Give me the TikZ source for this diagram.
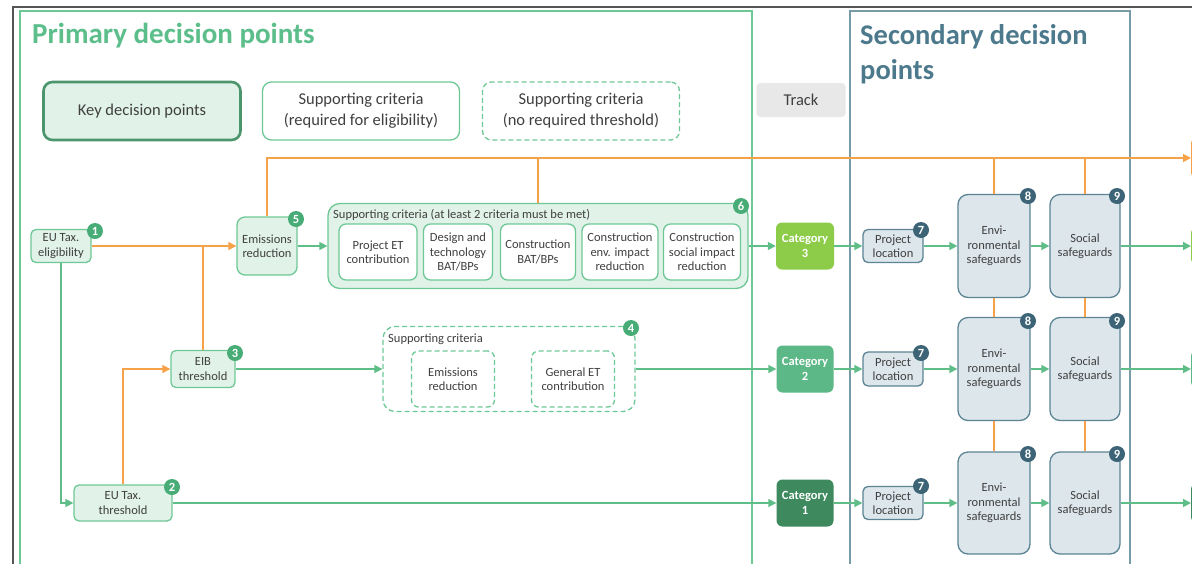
\documentclass[tikz,border=0pt]{standalone}
\usepackage{fontspec}
\setmainfont{Carlito}
\usetikzlibrary{arrows.meta}
\definecolor{txt}{RGB}{64,64,64}
\definecolor{cgreen}{RGB}{95,190,135}
\definecolor{corange}{RGB}{247,162,72}
\definecolor{kgfill}{RGB}{225,242,233}
\definecolor{kgborder}{RGB}{110,200,150}
\definecolor{kgdark}{RGB}{75,150,108}
\definecolor{bgreen}{RGB}{72,172,118}
\definecolor{titlegreen}{RGB}{92,190,138}
\definecolor{slate}{RGB}{120,155,168}
\definecolor{slateb}{RGB}{92,132,148}
\definecolor{slatefill}{RGB}{220,230,235}
\definecolor{slatebadge}{RGB}{60,100,118}
\definecolor{slatetitle}{RGB}{76,122,140}
\definecolor{cat3}{RGB}{141,204,72}
\definecolor{cat2}{RGB}{92,184,134}
\definecolor{cat1}{RGB}{62,138,94}
\definecolor{trackfill}{RGB}{232,232,232}
\definecolor{frame}{RGB}{85,85,85}
\begin{document}
\begin{tikzpicture}[x=1pt,y=-1pt,
  every node/.style={text=txt},
  fs/.style={font=\fontsize{12.5}{14.5}\selectfont},
  kd/.style={draw=kgborder, fill=kgfill, rounded corners=5, line width=1.3, align=center, inner sep=1, fs},
  sc/.style={draw=kgborder, fill=white, rounded corners=7, line width=1.3, align=center, inner sep=1, fs},
  scd/.style={sc, dash pattern=on 5pt off 3pt},
  grp/.style={draw=kgborder, fill=kgfill, rounded corners=12, line width=1.3},
  grpd/.style={draw=kgborder, fill=white, rounded corners=12, line width=1.3, dash pattern=on 5pt off 3pt},
  sd/.style={draw=slateb, fill=slatefill, rounded corners=5, line width=1.3, align=center, inner sep=1, fs},
  sdbig/.style={sd, rounded corners=10},
  cat/.style={rounded corners=6, align=center, inner sep=1, text=white, font=\bfseries\fontsize{12.5}{15}\selectfont},
  badge/.style={circle, fill=bgreen, text=white, font=\bfseries\fontsize{12.5}{12.5}\selectfont, inner sep=0, minimum size=16},
  sbadge/.style={badge, fill=slatebadge},
  legend/.style={rounded corners=9, align=center, font=\fontsize{16.5}{21}\selectfont, minimum width=197, minimum height=58},
  garrow/.style={draw=cgreen, line width=1.6, -{Triangle[width=8pt,length=8pt]}},
  gline/.style={draw=cgreen, line width=1.6},
  oarrow/.style={draw=corange, line width=1.6, -{Triangle[width=8pt,length=8pt]}},
  oline/.style={draw=corange, line width=1.6}]
\useasboundingbox (0,0) rectangle (1192,563);
\clip (0,0) rectangle (1192,563);
\fill[white] (0,0) rectangle (1192,563);
% frames
\draw[frame, line width=1.5] (13,600) -- (13,7) -- (1200,7);
\draw[kgborder, line width=1.3] (20,600) -- (20,11) -- (752,11) -- (752,600);
\draw[slate, line width=1.5] (850,600) -- (850,11) -- (1130,11) -- (1130,600);
\node[anchor=west, font=\bfseries\fontsize{29}{30}\selectfont, text=titlegreen, inner sep=0] (t1) at (32,36) {Primary decision points};
\node[anchor=north west, align=left, font=\bfseries\fontsize{28.5}{35}\selectfont, text=slatetitle, inner sep=0] (t2) at (860,24) {Secondary decision\\points};
% legend
\node[legend, draw=kgdark, fill=kgfill, line width=2.6] (lg1) at (142,111) {Key decision points};
\node[legend, draw=kgborder, fill=white, line width=1.3] (lg2) at (361,111) {Supporting criteria\\(required for eligibility)};
\node[legend, draw=kgborder, fill=white, line width=1.3, dash pattern=on 5pt off 3pt] (lg3) at (581,111) {Supporting criteria\\(no required threshold)};
\node[rounded corners=4, fill=trackfill, draw=trackfill!60!white, minimum width=89, minimum height=34, font=\fontsize{16.5}{20}\selectfont] (track) at (801,100) {Track};
% right cut-off boxes
\node[draw=corange, fill=white, line width=1.6, rounded corners=5, minimum width=40, minimum height=40, anchor=west] (ob) at (1191,158) {};
\node[fill=cat3, rounded corners=5, minimum width=40, minimum height=38, anchor=west] (rb3) at (1191,246) {};
\node[fill=cat2, rounded corners=5, minimum width=40, minimum height=38, anchor=west] (rb2) at (1191,369) {};
\node[fill=cat1, rounded corners=5, minimum width=40, minimum height=40, anchor=west] (rb1) at (1191,503) {};
% primary nodes
\node[kd, minimum width=60, minimum height=33] (eut) at (61,246) {EU Tax.\\eligibility};
\node[kd, minimum width=60, minimum height=58, rounded corners=8] (er) at (267,246) {Emissions\\reduction};
\node[kd, minimum width=64, minimum height=37] (eib) at (203,369) {EIB\\threshold};
\node[kd, minimum width=98, minimum height=36] (eutt) at (123,503) {EU Tax.\\threshold};
% group 6
\node[grp, minimum width=420, minimum height=85] (g6) at (538,246) {};
\node[anchor=west, fs, inner sep=0] (l6) at (333,215) {Supporting criteria (at least 2 criteria must be met)};
\node[sc, minimum width=78, minimum height=56] (c1) at (378,252) {Project ET\\contribution};
\node[sc, minimum width=69, minimum height=56] (c2) at (458,252) {Design and\\technology\\BAT/BPs};
\node[sc, minimum width=75, minimum height=56] (c3) at (538,252) {Construction\\BAT/BPs};
\node[sc, minimum width=76, minimum height=56] (c4) at (620,252) {Construction\\env. impact\\reduction};
\node[sc, minimum width=77, minimum height=56] (c5) at (702,252) {Construction\\social impact\\reduction};
% group 4
\node[grpd, minimum width=252, minimum height=85] (g4) at (509,369) {};
\node[anchor=west, fs, inner sep=0] (l4) at (388,339) {Supporting criteria};
\node[scd, minimum width=83, minimum height=56] (d1) at (453,379) {Emissions\\reduction};
\node[scd, minimum width=83, minimum height=56] (d2) at (573,379) {General ET\\contribution};
% categories
\node[cat, fill=cat3, minimum width=58, minimum height=47] (k3) at (805,246) {Category\\3};
\node[cat, fill=cat2, minimum width=57, minimum height=47] (k2) at (805,369) {Category\\2};
\node[cat, fill=cat1, minimum width=57, minimum height=47] (k1) at (805,503) {Category\\1};
% secondary nodes
\node[sd, minimum width=60, minimum height=33] (p3) at (893,246) {Project\\location};
\node[sd, minimum width=60, minimum height=34] (p2) at (893,369) {Project\\location};
\node[sd, minimum width=60, minimum height=33] (p1) at (893,503) {Project\\location};
\node[sdbig, minimum width=72, minimum height=103] (e3) at (994,246) {Envi-\\ronmental\\safeguards};
\node[sdbig, minimum width=72, minimum height=103] (e2) at (994,369) {Envi-\\ronmental\\safeguards};
\node[sdbig, minimum width=72, minimum height=102] (e1) at (994,503) {Envi-\\ronmental\\safeguards};
\node[sdbig, minimum width=70, minimum height=103] (s3) at (1085,246) {Social\\safeguards};
\node[sdbig, minimum width=70, minimum height=103] (s2) at (1085,369) {Social\\safeguards};
\node[sdbig, minimum width=70, minimum height=102] (s1) at (1085,503) {Social\\safeguards};
% connectors
\draw[oarrow] (eut.east) -- (er.west);
\draw[oline] (eib.north) -- (eib.north |- er.west);
\draw[oarrow] (eutt.north) |- (eib.west);
\draw[garrow] (eut.south) |- (eutt.west);
\draw[garrow] (eib.east) -- (eib.east -| g4.west);
\draw[garrow] (g4.east |- k2.west) -- (k2.west);
\draw[garrow] (eutt.east) -- (eutt.east -| k1.west);
\draw[garrow] (er.east) -- (er.east -| g6.west);
\draw[garrow] (g6.east |- k3.west) -- (k3.west);
\draw[oarrow] (er.north) |- (ob.west);
\draw[oline] (g6.north) -- (g6.north |- ob.west);
\draw[oline] (e3.north) -- (e3.north |- ob.west);
\draw[oline] (s3.north) -- (s3.north |- ob.west);
\draw[oline] (e3.south) -- (e2.north);
\draw[oline] (e2.south) -- (e1.north);
\draw[oline] (s3.south) -- (s2.north);
\draw[oline] (s2.south) -- (s1.north);
\foreach \r in {1,2,3}{
  \draw[garrow] (k\r.east) -- (k\r.east -| p\r.west);
  \draw[garrow] (p\r.east) -- (p\r.east -| e\r.west);
  \draw[garrow] (e\r.east |- p\r.east) -- (e\r.east |- p\r.east -| s\r.west);
  \draw[garrow] (s\r.east |- p\r.east) -- (rb\r.west |- p\r.east);
}
% badges
\node[badge] (b1) at (95,231) {1};
\node[badge] (b2) at (172,487) {2};
\node[badge] (b3) at (235,353) {3};
\node[badge] (b4) at (631,328) {4};
\node[badge] (b5) at (296,219) {5};
\node[badge] (b6) at (741,206) {6};
\node[sbadge] (b73) at (921,230) {7};
\node[sbadge] (b72) at (921,353) {7};
\node[sbadge] (b71) at (921,486) {7};
\node[sbadge] (b83) at (1028,196) {8};
\node[sbadge] (b82) at (1028,321) {8};
\node[sbadge] (b81) at (1028,454) {8};
\node[sbadge] (b93) at (1117,196) {9};
\node[sbadge] (b92) at (1117,321) {9};
\node[sbadge] (b91) at (1117,454) {9};
\end{tikzpicture}
\end{document}
